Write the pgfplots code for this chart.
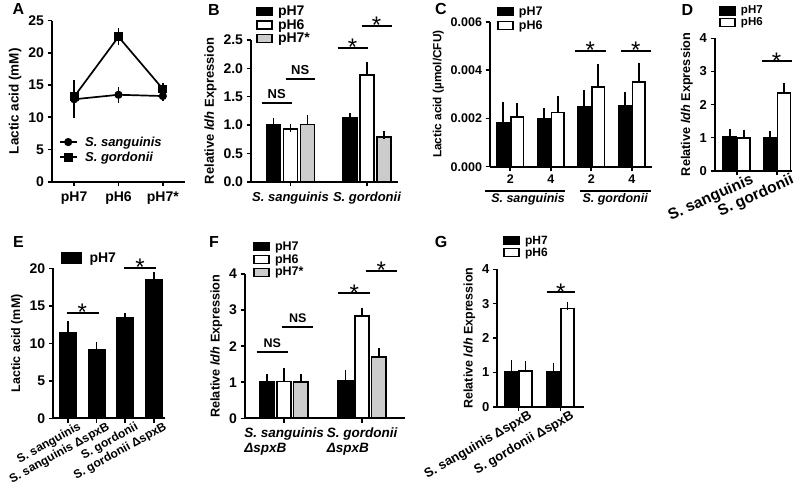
\documentclass[border=0pt]{standalone}
\usepackage{fontspec}
\setmainfont{Liberation Sans}
\usepackage{pgfplots}
\pgfplotsset{compat=1.18}
\newcommand{\bfs}[1]{\bfseries\fontsize{#1}{15}\selectfont}
\newcommand{\bfi}[1]{\bfseries\itshape\fontsize{#1}{15}\selectfont}
\definecolor{barg}{gray}{0.8}
\pgfplotsset{
  prism/.style={
    scale only axis, axis lines=left, axis line style={-, line width=1.8pt},
    tick align=outside, major tick length=4.5pt,
    every tick/.style={black, line width=1.6pt},
    ymin=0, clip=false,
    /pgf/number format/assume math mode=true,
    legend style={draw=none, fill=none, inner sep=0pt, row sep=2.5pt,
        nodes={inner sep=0.6pt}},
    legend cell align=left,
    error bars/y dir=plus, error bars/y explicit,
    error bars/error bar style={line width=1.7pt, black},
    error bars/error mark options={line width=1.7pt, mark size=4pt, black},
  },
  boxleg/.style={legend image code/.code={\draw[##1, line width=1.6pt] (0pt,-4pt) rectangle (15pt,4pt); \path (19.5pt,0pt);}},
  boxlegE/.style={legend image code/.code={\draw[##1, line width=1.6pt] (0pt,-5pt) rectangle (19pt,5pt); \path (26pt,0pt);}},
  lineleg/.style={legend image code/.code={\draw[mark repeat=2, mark phase=2, ##1] plot coordinates {(0pt,0pt) (8.5pt,0pt) (17pt,0pt)}; \path (24pt,0pt);}},
  bk/.style={ybar, bar width=#1, bar shift=0pt, fill=black, draw=black, line width=1.8pt, boxleg},
  wh/.style={ybar, bar width=#1, bar shift=0pt, fill=white, draw=black, line width=1.8pt, boxleg},
  gr/.style={ybar, bar width=#1, bar shift=0pt, fill=barg, draw=black, line width=1.8pt, boxleg},
  sig/.style={black, line width=2pt, forget plot, mark=none},
}
\newcommand{\sstar}[2]{\node[anchor=base, yshift=-8pt, font=\fontsize{24}{24}\selectfont, inner sep=0pt] at (axis cs:#1,#2) {*};}
\newcommand{\ns}[3]{\node[anchor=south, yshift=2pt, font=\bfs{#3}, inner sep=2pt] at (axis cs:#1,#2) {NS};}
\begin{document}
\begin{tikzpicture}
\useasboundingbox (0pt,0pt) rectangle (800pt,499pt);
\tikzset{plab/.style={font=\bfseries\fontsize{16}{16}\selectfont, inner sep=0pt}}
\node[plab] at (18.5pt,490pt) {A};
\node[plab] at (214pt,489pt) {B};
\node[plab] at (441pt,490pt) {C};
\node[plab] at (687.5pt,489pt) {D};
\node[plab] at (18.5pt,257pt) {E};
\node[plab] at (214pt,257pt) {F};
\node[plab] at (441pt,257pt) {G};

% ---------------- A
\begin{axis}[prism, at={(52pt,317.3pt)}, anchor=south west, width=133pt, height=161pt,
  tick label style={font=\bfs{14}}, label style={font=\bfs{13.5}},
  xmin=-0.5, xmax=2.5, ymax=25, ytick={0,5,...,25}, xtick={0,1,2},
  xticklabels={pH7,pH6,pH7*}, xticklabel style={yshift=-2pt},
  ylabel={Lactic acid (mM)},
  legend style={at={(0.05,0.285)}, anchor=north west, font=\bfi{13}, row sep=3pt},
  error bars/y dir=both]
\addplot[black, line width=1.7pt, mark=*, mark size=3.2pt, lineleg] coordinates {
 (0,12.8) +- (0,2.3) (1,13.5) +- (0,0.6) (2,13.3) +- (0,0.2)};
\addplot[black, line width=1.7pt, mark=square*, mark size=3.6pt, lineleg] coordinates {
 (0,13.2) +- (0,0.4) (1,22.5) +- (0,0.7) (2,14.4) +- (0,0.3)};
\legend{S. sanguinis, S. gordonii}
\end{axis}

% ---------------- B
\begin{axis}[prism, at={(251pt,317.3pt)}, anchor=south west, width=147pt, height=141.7pt,
  tick label style={font=\bfs{14}}, label style={font=\bfs{13}},
  xmin=-0.516, xmax=1.406, ymax=2.5, ytick={0,0.5,...,2.5},
  yticklabel style={/pgf/number format/.cd, fixed, fixed zerofill, precision=1},
  xtick={0,1}, xticklabels={S. sanguinis, S. gordonii},
  xticklabel style={font=\bfi{13}, yshift=-2pt},
  ylabel={Relative \textit{ldh} Expression},
  legend style={at={(0.034,1.245)}, anchor=north west, font=\bfs{14}, row sep=1pt}]
\addplot[bk=14pt] coordinates {(-0.222,1.00) +- (0,0.05) (0.778,1.13) +- (0,0.01)};
\addplot[wh=14pt] coordinates {(0,0.93) +- (0,0.02) (1,1.88) +- (0,0.17)};
\addplot[gr=14pt] coordinates {(0.222,1.01) +- (0,0.10) (1.222,0.79) +- (0,0.03)};
\legend{pH7, pH6, pH7*}
\addplot[sig] coordinates {(-0.376,1.39) (0.016,1.39)};
\addplot[sig] coordinates {(-0.063,1.81) (0.32,1.81)};
\addplot[sig] coordinates {(0.617,2.36) (1.009,2.36)};
\addplot[sig] coordinates {(0.93,2.75) (1.323,2.75)};
\ns{-0.18}{1.39}{13}
\ns{0.128}{1.81}{13}
\sstar{0.813}{2.36}
\sstar{1.127}{2.75}
\end{axis}

% ---------------- C
\begin{axis}[prism, at={(490pt,332.3pt)}, anchor=south west, width=162pt, height=145pt,
  tick label style={font=\bfs{12.5}}, label style={font=\bfs{11.8}},
  xmin=-0.5, xmax=3.5, ymax=0.006, ytick={0,0.002,0.004,0.006}, scaled y ticks=false,
  yticklabel style={/pgf/number format/.cd, fixed, fixed zerofill, precision=3},
  xtick={0,1,2,3}, xticklabels={2,4,2,4},
  ylabel={Lactic acid (µmol/CFU)},
  legend style={at={(0.043,1.11)}, anchor=north west, font=\bfs{12.5}}]
\addplot[bk=12.5pt] coordinates {(-0.173,0.00182) +- (0,0.00069) (0.827,0.00196) +- (0,0.00029) (1.827,0.00246) +- (0,0.00055) (2.827,0.00251) +- (0,0.00042)};
\addplot[wh=12.5pt] coordinates {(0.173,0.00207) +- (0,0.00039) (1.173,0.00224) +- (0,0.00052) (2.173,0.00329) +- (0,0.00078) (3.173,0.00352) +- (0,0.00062)};
\legend{pH7, pH6}
\addplot[sig] coordinates {(1.59,0.0048) (2.36,0.0048)};
\addplot[sig] coordinates {(2.73,0.0048) (3.475,0.0048)};
\addplot[sig] coordinates {(-0.62,-0.00099) (1.35,-0.00099)};
\addplot[sig] coordinates {(1.72,-0.00099) (3.47,-0.00099)};
\sstar{1.975}{0.0048}
\sstar{3.1}{0.0048}
\node[font=\bfi{12.5}] at (axis cs:0.44,-0.00136) {S. sanguinis};
\node[font=\bfi{12.5}] at (axis cs:2.59,-0.00136) {S. gordonii};
\end{axis}

% ---------------- D
\begin{axis}[prism, at={(715pt,328.3pt)}, anchor=south west, width=76.7pt, height=132.4pt,
  tick label style={font=\bfs{13}}, label style={font=\bfs{12.7}},
  xmin=-0.54, xmax=1.365, ymax=4, ytick={0,1,2,3,4},
  xtick={0,1}, xticklabels={S. sanguinis, S. gordonii},
  xticklabel style={font=\bfs{15.5}, rotate=24, anchor=north east, inner sep=1pt, xshift=14pt, yshift=-2pt},
  ylabel={Relative \textit{ldh} Expression},
  legend style={at={(0.052,1.25)}, anchor=north west, font=\bfs{11.5}, row sep=1pt}]
\addplot[bk=13pt] coordinates {(-0.174,1.02) +- (0,0.12) (0.826,1.00) +- (0,0.08)};
\addplot[wh=13pt] coordinates {(0.174,1.00) +- (0,0.12) (1.174,2.34) +- (0,0.19)};
\legend{pH7, pH6}
\addplot[sig] coordinates {(0.62,3.31) (1.365,3.31)};
\sstar{0.99}{3.31}
\end{axis}

% ---------------- E
\begin{axis}[prism, at={(53.3pt,80.7pt)}, anchor=south west, width=111.7pt, height=150pt,
  tick label style={font=\bfs{14}}, label style={font=\bfs{12.5}},
  xmin=-0.514, xmax=3.39, ymax=20, ytick={0,5,...,20},
  xtick={0,1,2,3}, xticklabels={S. sanguinis, S. sanguinis ΔspxB, S. gordonii, S. gordonii ΔspxB},
  xticklabel style={font=\bfs{12}, rotate=29, anchor=north east, inner sep=1pt, xshift=10pt, yshift=-2pt},
  ylabel={Lactic acid (mM)},
  legend style={at={(0.069,1.11)}, anchor=north west, font=\bfs{14}}]
\addplot[bk=16pt, boxlegE] coordinates {(0,11.33) +- (0,1.1) (1,9.1) +- (0,0.5) (2,13.35) +- (0,0.1) (3,18.44) +- (0,0.6)};
\legend{pH7}
\addplot[sig] coordinates {(-0.045,14.1) (1.08,14.1)};
\addplot[sig] coordinates {(1.96,20.1) (3.08,20.1)};
\sstar{0.5}{14.1}
\sstar{2.52}{20.1}
\end{axis}

% ---------------- F
\begin{axis}[prism, at={(245pt,80.7pt)}, anchor=south west, width=160pt, height=144.3pt,
  tick label style={font=\bfs{14}}, label style={font=\bfs{12.7}},
  xmin=-0.5, xmax=1.55, ymax=4, ytick={0,1,2,3,4},
  xtick={0,1}, xticklabels={{S. sanguinis\\ΔspxB}, {S. gordonii\\ΔspxB}},
  xticklabel style={font=\bfi{13.5}, align=left, yshift=-1pt},
  ylabel={Relative \textit{ldh} Expression},
  legend style={at={(0.05,1.23)}, anchor=north west, font=\bfs{12.5}, row sep=1.5pt}]
\addplot[bk=14.5pt] coordinates {(-0.214,1.01) +- (0,0.10) (0.786,1.05) +- (0,0.18)};
\addplot[wh=14.5pt] coordinates {(0,1.02) +- (0,0.27) (1,2.83) +- (0,0.13)};
\addplot[gr=14.5pt] coordinates {(0.214,1.00) +- (0,0.12) (1.214,1.70) +- (0,0.13)};
\legend{pH7, pH6, pH7*}
\addplot[sig] coordinates {(-0.35,1.83) (0.055,1.83)};
\addplot[sig] coordinates {(-0.022,2.54) (0.376,2.54)};
\addplot[sig] coordinates {(0.696,3.46) (1.103,3.46)};
\addplot[sig] coordinates {(1.047,4.09) (1.445,4.09)};
\ns{-0.15}{1.83}{12.5}
\ns{0.177}{2.54}{12.5}
\sstar{0.9}{3.46}
\sstar{1.246}{4.09}
\end{axis}

% ---------------- G
\begin{axis}[prism, at={(497.3pt,92.3pt)}, anchor=south west, width=86.7pt, height=137.4pt,
  tick label style={font=\bfs{13}}, label style={font=\bfs{12.5}},
  xmin=-0.507, xmax=1.557, ymax=4, ytick={0,1,2,3,4},
  xtick={0,1}, xticklabels={S. sanguinis ΔspxB, S. gordonii ΔspxB},
  xticklabel style={font=\bfs{13}, rotate=30, anchor=north east, inner sep=1pt, xshift=10pt, yshift=-2pt},
  ylabel={Relative \textit{ldh} Expression},
  legend style={at={(0.066,1.25)}, anchor=north west, font=\bfs{12}, row sep=1pt}]
\addplot[bk=13pt] coordinates {(-0.167,1.00) +- (0,0.23) (0.833,1.02) +- (0,0.15)};
\addplot[wh=13pt] coordinates {(0.167,1.05) +- (0,0.17) (1.167,2.86) +- (0,0.07)};
\legend{pH7, pH6}
\addplot[sig] coordinates {(0.67,3.33) (1.34,3.33)};
\sstar{1.005}{3.33}
\end{axis}
\end{tikzpicture}
\end{document}
